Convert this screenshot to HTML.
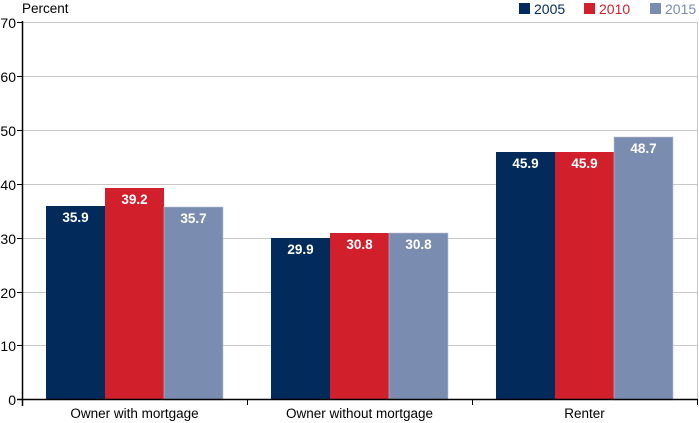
<!DOCTYPE html>
<html><head><meta charset="utf-8"><style>
html,body{margin:0;padding:0;background:#fff;}
svg{display:block;font-family:"Liberation Sans",Arial,sans-serif;}
</style></head><body>
<svg width="699" height="423" viewBox="0 0 699 423" xmlns="http://www.w3.org/2000/svg">
<g stroke="#c8c8c8" stroke-width="1">
<line x1="22" y1="22.5" x2="697" y2="22.5"/>
<line x1="22" y1="76.5" x2="697" y2="76.5"/>
<line x1="22" y1="130.5" x2="697" y2="130.5"/>
<line x1="22" y1="184.5" x2="697" y2="184.5"/>
<line x1="22" y1="238.5" x2="697" y2="238.5"/>
<line x1="22" y1="292.5" x2="697" y2="292.5"/>
<line x1="22" y1="345.5" x2="697" y2="345.5"/>
<line x1="697.5" y1="22" x2="697.5" y2="400"/>
</g>
<g>
<rect x="46" y="206" width="59" height="194" fill="#022a5a"/>
<rect x="105" y="188" width="59" height="212" fill="#d11f2c"/>
<rect x="164" y="207" width="59" height="193" fill="#7a8db1" stroke="#b8c2d6" stroke-width="0.6"/>
<rect x="271" y="238" width="59" height="162" fill="#022a5a"/>
<rect x="330" y="233" width="59" height="167" fill="#d11f2c"/>
<rect x="389" y="233" width="59" height="167" fill="#7a8db1" stroke="#b8c2d6" stroke-width="0.6"/>
<rect x="496" y="152" width="59" height="248" fill="#022a5a"/>
<rect x="555" y="152" width="59" height="248" fill="#d11f2c"/>
<rect x="614" y="137" width="59" height="263" fill="#7a8db1" stroke="#b8c2d6" stroke-width="0.6"/>
</g>
<g fill="#fff" font-weight="bold" font-size="13.5" text-anchor="middle">
<text x="75.5" y="222">35.9</text>
<text x="134.5" y="204">39.2</text>
<text x="193.5" y="223">35.7</text>
<text x="300.5" y="254">29.9</text>
<text x="359.5" y="249">30.8</text>
<text x="418.5" y="249">30.8</text>
<text x="525.5" y="168">45.9</text>
<text x="584.5" y="168">45.9</text>
<text x="643.5" y="153">48.7</text>
</g>
<g stroke="#000" stroke-width="1.5">
<line x1="22.5" y1="21" x2="22.5" y2="406"/>
<line x1="17" y1="399.5" x2="698" y2="399.5"/>
</g>
<g stroke="#000" stroke-width="1">
<line x1="17" y1="22.5" x2="22" y2="22.5"/>
<line x1="17" y1="76.5" x2="22" y2="76.5"/>
<line x1="17" y1="130.5" x2="22" y2="130.5"/>
<line x1="17" y1="184.5" x2="22" y2="184.5"/>
<line x1="17" y1="238.5" x2="22" y2="238.5"/>
<line x1="17" y1="292.5" x2="22" y2="292.5"/>
<line x1="17" y1="345.5" x2="22" y2="345.5"/>
<line x1="247.5" y1="399" x2="247.5" y2="405"/>
<line x1="472.5" y1="399" x2="472.5" y2="405"/>
<line x1="697.5" y1="399" x2="697.5" y2="405"/>
</g>
<g font-size="14" fill="#000" text-anchor="end">
<text x="16" y="28">70</text>
<text x="16" y="82">60</text>
<text x="16" y="136">50</text>
<text x="16" y="190">40</text>
<text x="16" y="244">30</text>
<text x="16" y="298">20</text>
<text x="16" y="351">10</text>
<text x="16" y="405">0</text>
</g>
<text x="22" y="13" font-size="13.5">Percent</text>
<g font-size="13.5" text-anchor="middle">
<text x="134.5" y="418">Owner with mortgage</text>
<text x="359.5" y="418">Owner without mortgage</text>
<text x="584.5" y="418">Renter</text>
</g>
<rect x="519" y="3" width="11" height="11" fill="#022a5a"/>
<text x="534" y="14" font-size="14" fill="#022a5a">2005</text>
<rect x="584" y="3" width="11" height="11" fill="#d11f2c"/>
<text x="599" y="14" font-size="14" fill="#d11f2c">2010</text>
<rect x="650" y="3" width="11" height="11" fill="#7a8db1"/>
<text x="665" y="14" font-size="14" fill="#7a8db1">2015</text>
</svg>
</body></html>
